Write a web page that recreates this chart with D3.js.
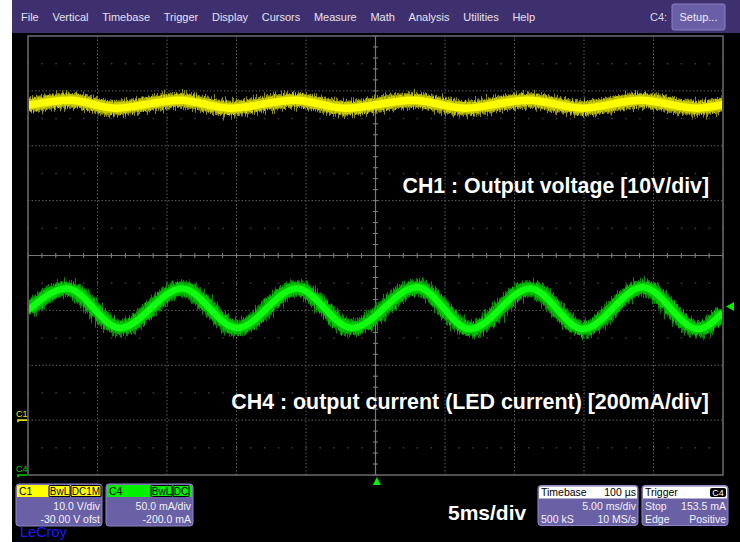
<!DOCTYPE html>
<html>
<head>
<meta charset="utf-8">
<script src="https://cdn.jsdelivr.net/npm/d3@7"></script>
<style>
  html, body { margin: 0; padding: 0; background: #fff; }
  svg { display: block; font-family: "Liberation Sans", Arial, sans-serif; }
</style>
</head>
<body>
<div id="scope"></div>
<script>
// menu bar
const menuItems = ["File", "Vertical", "Timebase", "Trigger", "Display", "Cursors", "Measure", "Math", "Analysis", "Utilities", "Help"]

// CH1 (yellow) : peaks / troughs
const timeMs1 = [0, 3.02, 6.26, 10.94, 14.53, 19.21, 22.81, 27.70, 31.44, 35.97, 39.93, 44.03, 48.13, 50]
const ch1Volts = [57.4, 58.3, 56.85, 58.3, 56.85, 58.3, 56.85, 58.3, 56.85, 58.3, 56.85, 58.3, 56.85, 57.5]

// CH4 (green)
const timeMs4 = [0, 2.81, 6.62, 11.08, 15.04, 19.35, 23.31, 28.0, 31.8, 36.12, 39.93, 44.24, 48.2, 50]
const ch4mA = [150, 170, 134, 170, 134, 170, 134, 171, 133, 170, 133, 171, 133, 148]

// channel setup
const c1Setup = { vdiv: 10, offset: -30 }      // V
const c4Setup = { vdiv: 50, offset: -200 }     // mA
const msPerDiv = 5
const triggerLevel = 153.5
const triggerDelayMs = 0.1

// info boxes
const c1Info = ["10.0 V/div", "-30.00 V ofst"]
const c1Tags = ["BwL", "DC1M"]
const c4Info = ["50.0 mA/div", "-200.0 mA"]
const c4Tags = ["BwL", "DC"]
const timebaseInfo = ["Timebase", "100 µs", "5.00 ms/div", "500 kS", "10 MS/s"]
const triggerInfo = ["Trigger", "C4", "Stop", "153.5 mA", "Edge", "Positive"]

const ch1Note = "CH1 : Output voltage [10V/div]"
const ch4Note = "CH4 : output current (LED current) [200mA/div]"
const timeNote = "5ms/div"

const W = 740, H = 542
const PLOT = { left: 28, right: 723, top: 36, bottom: 475 }
const YELLOW = '#ffff00', GREEN = '#00f000'

const svg = d3.select('#scope').append('svg').attr('width', W).attr('height', H)

svg.append('rect').attr('x', 0).attr('y', 0).attr('width', W).attr('height', H).attr('fill', '#fff')
svg.append('rect').attr('x', 12).attr('y', 0).attr('width', W - 12).attr('height', H).attr('fill', '#000')

// ---- scales
const x = d3.scaleLinear().domain([0, msPerDiv * 10]).range([PLOT.left, PLOT.right])
const div = d3.scaleLinear().domain([-4, 4]).range([PLOT.bottom, PLOT.top])
const yC1 = d3.scaleLinear()
    .domain([-4 * c1Setup.vdiv - c1Setup.offset, 4 * c1Setup.vdiv - c1Setup.offset])
    .range([PLOT.bottom, PLOT.top])
const yC4 = d3.scaleLinear()
    .domain([-4 * c4Setup.vdiv - c4Setup.offset, 4 * c4Setup.vdiv - c4Setup.offset])
    .range([PLOT.bottom, PLOT.top])

// ---- menu bar
svg.append('rect').attr('x', 12).attr('y', 0).attr('width', W - 12).attr('height', 33).attr('fill', '#3e2f6f')
let mx = 21
menuItems.forEach(function (m) {
    const t = svg.append('text').attr('x', mx).attr('y', 21)
        .attr('fill', '#e4e2ee').style('font-size', '11px').text(m)
    mx += t.node().getComputedTextLength() + 13.7
})
svg.append('text').attr('x', 650).attr('y', 21).attr('fill', '#d8d6e6').style('font-size', '11px').text('C4:')
svg.append('rect').attr('x', 672).attr('y', 4).attr('width', 53).attr('height', 26).attr('rx', 2)
    .attr('fill', '#6a5fa6').attr('stroke', '#8a80c2')
svg.append('text').attr('x', 698.5).attr('y', 21).attr('text-anchor', 'middle')
    .attr('fill', '#eeeef6').style('font-size', '11px').text('Setup...')

// ---- grid
const grid = svg.append('g')
const minorX = d3.range(0, 50.01, msPerDiv / 5)
const halfRows = d3.range(-3.5, 4, 1)
halfRows.forEach(function (r) {
    minorX.forEach(function (t) {
        grid.append('rect').attr('x', x(t) - 0.5).attr('y', div(r) - 0.5).attr('width', 1.5).attr('height', 1.5).attr('fill', '#3c3c3c')
    })
})
d3.range(1, 10).forEach(function (i) {
    if (i === 5) return
    grid.append('line').attr('x1', x(i * msPerDiv)).attr('x2', x(i * msPerDiv))
        .attr('y1', PLOT.top).attr('y2', PLOT.bottom)
        .attr('stroke', '#5e5e5e').attr('stroke-dasharray', '1.5 2')
})
d3.range(-3, 4).forEach(function (i) {
    if (i === 0) return
    grid.append('line').attr('x1', PLOT.left).attr('x2', PLOT.right)
        .attr('y1', div(i)).attr('y2', div(i))
        .attr('stroke', '#5e5e5e').attr('stroke-dasharray', '1.5 2')
})
// center cross with ticks
grid.append('line').attr('x1', PLOT.left).attr('x2', PLOT.right).attr('y1', div(0)).attr('y2', div(0))
    .attr('stroke', '#777').attr('stroke-width', 1.2)
grid.append('line').attr('x1', x(25)).attr('x2', x(25)).attr('y1', PLOT.top).attr('y2', PLOT.bottom)
    .attr('stroke', '#777').attr('stroke-width', 1.2)
minorX.forEach(function (t) {
    grid.append('line').attr('x1', x(t)).attr('x2', x(t)).attr('y1', div(0) - 2.5).attr('y2', div(0) + 2.5)
        .attr('stroke', '#858585')
})
d3.range(-4, 4.01, 0.2).forEach(function (d) {
    grid.append('line').attr('x1', x(25) - 2.5).attr('x2', x(25) + 2.5).attr('y1', div(d)).attr('y2', div(d))
        .attr('stroke', '#858585')
})
grid.append('rect').attr('x', PLOT.left).attr('y', PLOT.top)
    .attr('width', PLOT.right - PLOT.left).attr('height', PLOT.bottom - PLOT.top)
    .attr('fill', 'none').attr('stroke', '#666').attr('stroke-width', 1.6)

// ---- trace noise filters
const defs = svg.append('defs')
defs.append('clipPath').attr('id', 'plotClip').append('rect')
    .attr('x', PLOT.left + 1).attr('y', PLOT.top + 1)
    .attr('width', PLOT.right - PLOT.left - 2).attr('height', PLOT.bottom - PLOT.top - 2)

function noiseFilter(id, scale, seed) {
    const f = defs.append('filter').attr('id', id)
        .attr('filterUnits', 'userSpaceOnUse').attr('x', 0).attr('y', 0).attr('width', W).attr('height', H)
        .attr('color-interpolation-filters', 'sRGB')
    f.append('feTurbulence').attr('type', 'fractalNoise').attr('baseFrequency', '0.9 0.01')
        .attr('numOctaves', 2).attr('seed', seed).attr('result', 'n')
    f.append('feDisplacementMap').attr('in', 'SourceGraphic').attr('in2', 'n')
        .attr('scale', scale).attr('xChannelSelector', 'G').attr('yChannelSelector', 'R')
}
noiseFilter('noiseOuter', 16, 3)
noiseFilter('noiseMid', 9, 7)

function drawTrace(times, values, yscale, colors, coreWidth) {
    const pts = times.map(function (t, i) { return [t, values[i]] })
    const line = d3.line()
        .x(function (d) { return x(d[0]) })
        .y(function (d) { return yscale(d[1]) })
        .curve(d3.curveMonotoneX)
    const g = svg.append('g').attr('clip-path', 'url(#plotClip)')
    g.append('path').attr('d', line(pts)).attr('fill', 'none')
        .attr('stroke', colors[0]).attr('stroke-width', 15).attr('filter', 'url(#noiseOuter)')
    g.append('path').attr('d', line(pts)).attr('fill', 'none')
        .attr('stroke', colors[1]).attr('stroke-width', 12).attr('filter', 'url(#noiseMid)')
    g.append('path').attr('d', line(pts)).attr('fill', 'none')
        .attr('stroke', colors[2]).attr('stroke-width', coreWidth)
}
drawTrace(timeMs1, ch1Volts, yC1, ['#8c8c00', '#c8c800', YELLOW], 7.5)
drawTrace(timeMs4, ch4mA, yC4, ['#008c00', '#00c000', '#10ff10'], 6.5)

// ---- channel ground markers
function groundMarker(name, yPos, color) {
    svg.append('text').attr('x', 16).attr('y', yPos - 3).attr('fill', color)
        .style('font-size', '9px').text(name)
    svg.append('path').attr('d', 'M18,' + (yPos + 2) + 'V' + yPos + 'H27')
        .attr('fill', 'none').attr('stroke', color).attr('stroke-width', 1.6)
}
groundMarker('C1', yC1(0), '#e0e000')
groundMarker('C4', yC4(0), '#00d000')

// ---- trigger markers
const ty = yC4(triggerLevel)
svg.append('path').attr('d', 'M726,' + ty + 'L734,' + (ty - 4.5) + 'V' + (ty + 4.5) + 'Z').attr('fill', GREEN)
const tx = x(25 + triggerDelayMs)
svg.append('path').attr('d', 'M' + tx + ',477L' + (tx - 4) + ',485H' + (tx + 4) + 'Z').attr('fill', GREEN)

// ---- annotations
svg.append('text').attr('x', 709).attr('y', 193).attr('text-anchor', 'end')
    .attr('fill', '#fff').style('font-size', '21.3px').style('font-weight', 'bold').text(ch1Note)
svg.append('text').attr('x', 709).attr('y', 409).attr('text-anchor', 'end')
    .attr('fill', '#fff').style('font-size', '21.4px').style('font-weight', 'bold').text(ch4Note)
svg.append('text').attr('x', 448).attr('y', 520)
    .attr('fill', '#fff').style('font-size', '21px').style('font-weight', 'bold').text(timeNote)

// ---- info boxes
function infoBox(x0, y0, w, h, headFill) {
    const g = svg.append('g')
    g.append('rect').attr('x', x0).attr('y', y0).attr('width', w).attr('height', h).attr('rx', 3)
        .attr('fill', '#6a60a6').attr('stroke', '#9088c8')
    g.append('path').attr('d', 'M' + (x0 + 1) + ',' + (y0 + 13) + 'V' + (y0 + 3) + 'Q' + (x0 + 1) + ',' + (y0 + 1) + ' ' + (x0 + 3) + ',' + (y0 + 1)
        + 'H' + (x0 + w - 3) + 'Q' + (x0 + w - 1) + ',' + (y0 + 1) + ' ' + (x0 + w - 1) + ',' + (y0 + 3) + 'V' + (y0 + 13) + 'Z')
        .attr('fill', headFill)
    return g
}
function boxText(g, tx, ty, s, anchor, fill) {
    return g.append('text').attr('x', tx).attr('y', ty).attr('text-anchor', anchor || 'start')
        .attr('fill', fill || '#f2f2f8').style('font-size', '10.5px').text(s)
}
function tagBoxes(g, x0, y0, tags, widths) {
    let cx = x0
    tags.forEach(function (t, i) {
        g.append('rect').attr('x', cx).attr('y', y0).attr('width', widths[i]).attr('height', 11)
            .attr('fill', 'none').attr('stroke', '#000').attr('stroke-width', 1.1).attr('rx', 1)
        g.append('text').attr('x', cx + widths[i] / 2).attr('y', y0 + 9.3).attr('text-anchor', 'middle')
            .attr('fill', '#000').style('font-size', '10px').text(t)
        cx += widths[i] + 1
    })
}

const b1 = infoBox(16, 484, 86, 42, YELLOW)
boxText(b1, 19, 495, 'C1', 'start', '#000')
tagBoxes(b1, 49, 485.5, c1Tags, [21, 30])
boxText(b1, 100, 509.5, c1Info[0], 'end')
boxText(b1, 100, 523, c1Info[1], 'end')

const b4 = infoBox(106, 484, 87, 42, '#00f000')
boxText(b4, 109, 495, 'C4', 'start', '#000')
tagBoxes(b4, 151, 485.5, c4Tags, [21, 16])
boxText(b4, 191, 509.5, c4Info[0], 'end')
boxText(b4, 191, 523, c4Info[1], 'end')

const bt = infoBox(538, 485.5, 100, 40, '#fff')
boxText(bt, 541, 496, timebaseInfo[0], 'start', '#000')
boxText(bt, 636, 496, timebaseInfo[1], 'end', '#000')
boxText(bt, 636, 510, timebaseInfo[2], 'end')
boxText(bt, 541, 523, timebaseInfo[3], 'start')
boxText(bt, 636, 523, timebaseInfo[4], 'end')

const bg = infoBox(642, 485.5, 86, 40, '#fff')
boxText(bg, 645, 496, triggerInfo[0], 'start', '#000')
bg.append('rect').attr('x', 710).attr('y', 488).attr('width', 16).attr('height', 9).attr('rx', 2).attr('fill', '#000')
bg.append('text').attr('x', 718).attr('y', 495.5).attr('text-anchor', 'middle').attr('fill', '#fff')
    .style('font-size', '9px').text(triggerInfo[1])
boxText(bg, 645, 510, triggerInfo[2], 'start')
boxText(bg, 726, 510, triggerInfo[3], 'end')
boxText(bg, 645, 523, triggerInfo[4], 'start')
boxText(bg, 726, 523, triggerInfo[5], 'end')

// ---- logo
svg.append('text').attr('x', 20).attr('y', 537).attr('fill', '#1a1aff')
    .style('font-size', '14.5px').text('LeCroy')
</script>
</body>
</html>
